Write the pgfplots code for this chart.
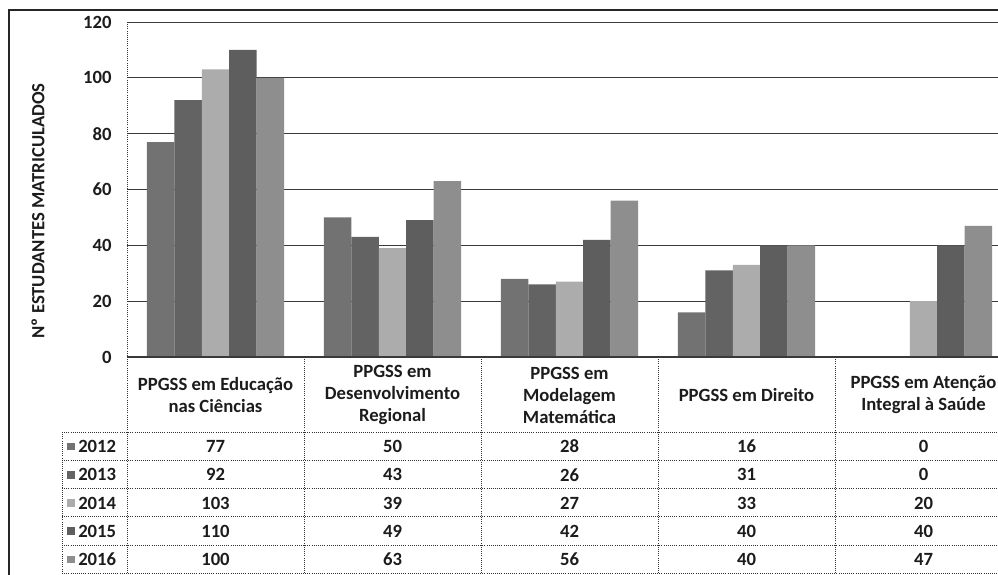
\documentclass[border=0pt]{standalone}
\usepackage{fontspec}
\setmainfont{Carlito}
\usepackage{pgfplots}
\usepackage{pgfplotstable}
\pgfplotsset{compat=1.18}

\definecolor{c2012}{HTML}{727272}
\definecolor{c2013}{HTML}{636363}
\definecolor{c2014}{HTML}{ACACAC}
\definecolor{c2015}{HTML}{5E5E5E}
\definecolor{c2016}{HTML}{8E8E8E}
\definecolor{txt}{HTML}{1C1C1C}
\definecolor{gridc}{HTML}{3A3A3A}

\pgfplotstableread{
x y2012 y2013 y2014 y2015 y2016
0 77 92 103 110 100
1 50 43 39 49 63
2 28 26 27 42 56
3 16 31 33 40 40
4 0 0 20 40 47
}\data

\begin{document}
\begin{tikzpicture}
\useasboundingbox (0pt,0pt) rectangle (748.5pt,-430.5pt);
\clip (0pt,0pt) rectangle (748.5pt,-430.5pt);
\fill[white] (0pt,0pt) rectangle (748.5pt,-430.5pt);
\begin{axis}[
  at={(95.25pt,-267.75pt)}, anchor=south west,
  x=132.75pt, y=2.09375pt,
  xmin=-0.5, xmax=4.5, ymin=0, ymax=120,
  ybar=0pt, bar width=20.6pt,
  axis line style={draw=none},
  ymajorgrids, grid style={gridc, line width=0.6pt},
  major tick length=0pt,
  xtick=\empty,
  ytick={0,20,...,120},
  /pgf/number format/assume math mode=true,
  yticklabel style={font=\bfseries\fontsize{14}{16}\selectfont, text=txt, xshift=-8pt},
]
\addplot[fill=c2012, draw=none] table[x=x, y=y2012]{\data};
\addplot[fill=c2013, draw=none] table[x=x, y=y2013]{\data};
\addplot[fill=c2014, draw=none] table[x=x, y=y2014]{\data};
\addplot[fill=c2015, draw=none] table[x=x, y=y2015]{\data};
\addplot[fill=c2016, draw=none] table[x=x, y=y2016]{\data};
\end{axis}
\begin{scope}[x=0.75pt, y=-0.75pt, font=\bfseries\fontsize{14}{16.5}\selectfont, text=txt]
  % outer frame
  \draw[line width=1.6pt, black!85] (9,580) -- (9,10) -- (1010,10);
  % y label
  \node[rotate=90] at (38,211) {Nº ESTUDANTES MATRICULADOS};
  % table grid
  \foreach \yy in {432,460.25,488.5,516.75,545,573.25}
    \draw[densely dotted, line width=0.6pt, black!80] (62,\yy) -- (1012,\yy);
  \draw[densely dotted, line width=0.6pt, black!80] (62,432) -- (62,580);
  \draw[densely dotted, line width=0.6pt, black!80] (127,22) -- (127,580);
  \foreach \xx in {304,481,658,835}
    \draw[densely dotted, line width=0.6pt, black!80] (\xx,357) -- (\xx,580);
  \draw[line width=0.8pt, gridc] (127,357) -- (1012,357);
  % header labels
  \foreach \i/\t in {0/{PPGSS em Educação\\nas Ciências},
                     1/{PPGSS em\\Desenvolvimento\\Regional},
                     2/{PPGSS em\\Modelagem\\Matemática},
                     3/{PPGSS em Direito},
                     4/{PPGSS em Atenção\\Integral à Saúde}}
    \node[align=center, inner sep=0pt] at (215.5+177*\i,395) {\t};
  % rows
  \foreach \col/\yr/\cc [count=\j from 0] in {y2012/2012/c2012, y2013/2013/c2013, y2014/2014/c2014, y2015/2015/c2015, y2016/2016/c2016} {
    \fill[\cc] (67,446.5+28.25*\j-3.8) rectangle (74.5,446.5+28.25*\j+3.8);
    \node[anchor=west, inner sep=0pt] at (78,446.5+28.25*\j) {\yr};
    \foreach \i in {0,...,4} {
      \pgfplotstablegetelem{\i}{\col}\of\data
      \node[inner sep=0pt] at (215.5+177*\i,446.5+28.25*\j) {\pgfplotsretval};
    }
  }
\end{scope}
\end{tikzpicture}
\end{document}
